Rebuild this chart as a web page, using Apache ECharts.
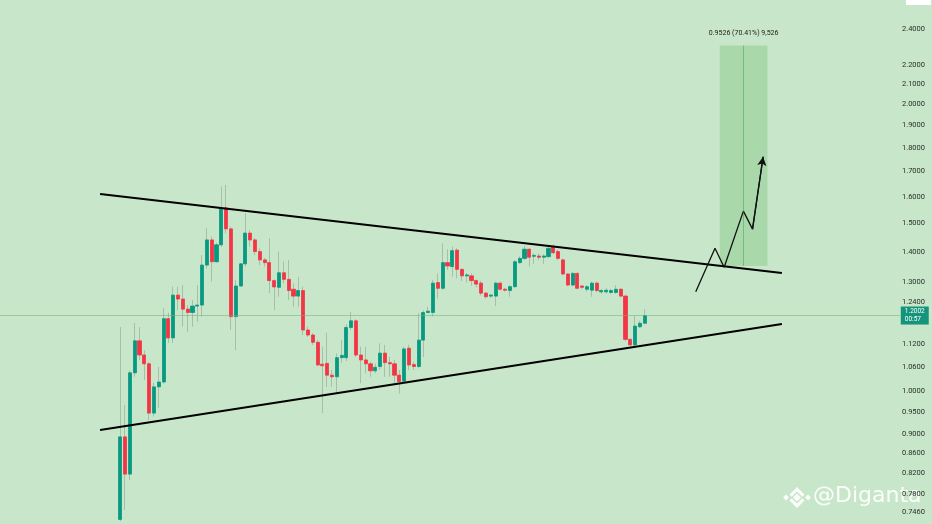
<!DOCTYPE html>
<html>
<head>
<meta charset="utf-8">
<script src="https://cdn.jsdelivr.net/npm/echarts@6/dist/echarts.min.js"></script>
<style>
html,body{margin:0;padding:0;background:#c8e6c9;}
#chart{width:932px;height:524px;}
</style>
</head>
<body>
<div id="chart"></div>
<script>
// ---- Data ----
const openP = [0.733,0.895,0.818,1.045,1.129,1.091,1.068,0.948,1.010,1.022,
1.191,1.137,1.261,1.249,1.219,1.209,1.228,1.231,1.356,1.441,
1.367,1.424,1.557,1.480,1.197,1.289,1.360,1.465,1.441,1.401,
1.373,1.364,1.306,1.285,1.331,1.310,1.279,1.258,1.275,1.159,
1.145,1.125,1.067,1.069,1.039,1.035,1.084,1.084,1.166,1.185,
1.091,1.078,1.068,1.050,1.061,1.096,1.071,1.068,1.039,1.024,
1.109,1.066,1.061,1.131,1.209,1.209,1.300,1.282,1.364,1.351,
1.406,1.342,1.321,1.321,1.306,1.298,1.267,1.258,1.258,1.298,
1.279,1.275,1.287,1.364,1.378,1.409,1.385,1.386,1.382,1.384,
1.416,1.401,1.373,1.327,1.292,1.329,1.289,1.279,1.276,1.298,
1.271,1.271,1.269,1.269,1.279,1.258,1.133,1.118,1.168,1.178];
const closeP = [0.895,0.818,1.045,1.129,1.091,1.068,0.948,1.010,1.022,1.191,
1.137,1.261,1.249,1.219,1.209,1.228,1.231,1.356,1.441,1.367,
1.424,1.557,1.480,1.197,1.289,1.360,1.465,1.441,1.401,1.373,
1.364,1.306,1.286,1.331,1.310,1.275,1.258,1.275,1.159,1.145,
1.125,1.065,1.063,1.039,1.035,1.084,1.090,1.166,1.185,1.091,
1.078,1.068,1.050,1.059,1.096,1.071,1.068,1.039,1.023,1.107,
1.065,1.061,1.131,1.209,1.213,1.298,1.282,1.364,1.353,1.404,
1.342,1.321,1.324,1.306,1.295,1.267,1.256,1.261,1.298,1.279,
1.276,1.287,1.367,1.378,1.409,1.382,1.388,1.382,1.386,1.412,
1.397,1.378,1.327,1.292,1.329,1.282,1.285,1.287,1.298,1.275,
1.275,1.276,1.275,1.279,1.258,1.133,1.118,1.170,1.178,1.2002];
const highP = [1.167,0.967,1.050,1.179,1.167,1.104,1.073,1.020,1.060,1.222,
1.208,1.287,1.287,1.292,1.231,1.246,1.292,1.389,1.482,1.452,
1.431,1.639,1.646,1.488,1.308,1.363,1.537,1.476,1.447,1.412,
1.379,1.447,1.310,1.401,1.367,1.373,1.297,1.318,1.287,1.168,
1.150,1.131,1.113,1.151,1.052,1.095,1.131,1.175,1.211,1.190,
1.113,1.113,1.073,1.069,1.122,1.118,1.086,1.078,1.052,1.113,
1.118,1.073,1.207,1.216,1.226,1.308,1.329,1.429,1.409,1.418,
1.412,1.345,1.330,1.330,1.310,1.305,1.270,1.265,1.303,1.303,
1.283,1.292,1.372,1.385,1.420,1.412,1.395,1.395,1.392,1.420,
1.426,1.408,1.378,1.330,1.333,1.333,1.292,1.292,1.303,1.303,
1.280,1.282,1.280,1.292,1.283,1.262,1.136,1.199,1.185,1.219];
const lowP = [0.730,0.750,0.806,1.035,1.078,1.027,0.932,0.940,0.960,1.018,
1.123,1.123,1.216,1.168,1.154,1.168,1.182,1.197,1.345,1.303,
1.363,1.417,1.464,1.159,1.104,1.287,1.351,1.418,1.389,1.356,
1.351,1.267,1.216,1.256,1.297,1.246,1.226,1.226,1.145,1.140,
1.118,1.061,0.948,1.010,1.010,0.994,1.070,1.075,1.159,1.086,
1.019,1.044,1.035,1.044,1.052,1.035,1.035,1.019,0.994,1.019,
1.052,1.052,1.056,1.086,1.207,1.197,1.251,1.277,1.340,1.318,
1.313,1.305,1.300,1.290,1.285,1.260,1.250,1.252,1.228,1.275,
1.272,1.256,1.283,1.360,1.372,1.351,1.360,1.372,1.360,1.380,
1.393,1.372,1.323,1.288,1.288,1.279,1.280,1.272,1.256,1.270,
1.265,1.266,1.264,1.265,1.254,1.128,1.112,1.112,1.165,1.175];

// trend lines and projection, [barIndex, price]
const upperLine = [[-4.2, 1.610], [137.5, 1.330]];
const lowerLine = [[-4.2, 0.910], [137.5, 1.176]];
const projection = [[119.6, 1.271], [123.6, 1.412], [125.5, 1.349], [129.5, 1.545], [131.4, 1.479], [133.6, 1.762]];
const targetBox = { x0: 124.6, x1: 134.5, entry: 1.353, target: 2.3056, mid: 129.5 };
const targetText = '0.9526 (70.41%) 9,526';
const lastPrice = 1.2002;
const countdown = '00:57';
const tickLabels = [2.4, 2.2, 2.1, 2.0, 1.9, 1.8, 1.7, 1.6, 1.5, 1.4, 1.3, 1.24, 1.12, 1.06, 1.0, 0.95, 0.90, 0.86, 0.82, 0.78, 0.746];

// ---- Build series data ----
const wickData = openP.map((o, i) => [i, o, closeP[i], lowP[i], highP[i]]);
const bodyData = openP.map((o, i) => [i, o, closeP[i], Math.min(o, closeP[i]), Math.max(o, closeP[i])]);

const UP = '#089981', DOWN = '#f23645', WICK = 'rgba(110,130,110,0.38)';
const WM = 'rgba(255,255,255,0.92)';

const chart = echarts.init(document.getElementById('chart'));
chart.setOption({
  animation: false,
  backgroundColor: '#c8e6c9',
  grid: { left: 0, right: 0, top: 0, bottom: 0 },
  xAxis: {
    type: 'value', min: -25, max: 168.7,
    axisLine: { show: false }, axisTick: { show: false }, axisLabel: { show: false }, splitLine: { show: false }
  },
  yAxis: {
    type: 'log', logBase: 10, min: 0.725, max: 2.574, position: 'right',
    axisLine: { show: false }, axisTick: { show: false }, splitLine: { show: false },
    axisLabel: {
      inside: true, margin: 7, fontSize: 7.5, color: '#2a2e2a', fontFamily: 'Roboto',
      customValues: tickLabels,
      formatter: v => Number(v).toFixed(4)
    }
  },
  series: [
    {
      type: 'candlestick', name: 'wicks', data: wickData, encode: { x: 0, y: [1, 2, 3, 4] },
      barWidth: 0.6, silent: true,
      itemStyle: { color: WICK, color0: WICK, borderColor: WICK, borderColor0: WICK, borderWidth: 1 }
    },
    {
      type: 'candlestick', name: 'bodies', data: bodyData, encode: { x: 0, y: [1, 2, 3, 4] },
      barWidth: 3.6,
      itemStyle: { color: UP, color0: DOWN, borderColor: UP, borderColor0: DOWN, borderWidth: 0.8 }
    },
    {
      type: 'line', name: 'upper', data: upperLine, symbol: 'none',
      lineStyle: { color: '#000', width: 2 },
      markArea: {
        silent: true,
        itemStyle: { color: 'rgba(76,175,80,0.25)' },
        label: { show: true, position: 'top', distance: 9, formatter: targetText, fontSize: 7, color: '#1b1b1b', fontFamily: 'Roboto' },
        data: [[{ coord: [targetBox.x0, targetBox.entry] }, { coord: [targetBox.x1, targetBox.target] }]]
      },
      markLine: {
        silent: true, symbol: 'none', label: { show: false },
        lineStyle: { color: 'rgba(60,150,60,0.45)', width: 1, type: 'solid' },
        data: [[{ coord: [targetBox.mid, targetBox.entry] }, { coord: [targetBox.mid, targetBox.target] }]]
      }
    },
    {
      type: 'line', name: 'lower', data: lowerLine, symbol: 'none',
      lineStyle: { color: '#000', width: 2 },
      markLine: {
        silent: true, symbol: 'none',
        lineStyle: { color: 'rgba(120,175,120,0.55)', width: 1, type: 'solid' },
        label: {
          show: true, position: 'end', distance: 1,
          formatter: lastPrice.toFixed(4) + '\n' + countdown,
          backgroundColor: '#14947a', color: '#ffffff', fontSize: 6.5, lineHeight: 8,
          padding: [1, 4], fontFamily: 'Roboto'
        },
        data: [[{ coord: [-25, lastPrice] }, { coord: [162.0, lastPrice] }]]
      }
    },
    {
      type: 'line', name: 'projection', data: projection, symbol: 'none',
      lineStyle: { color: '#111', width: 1.3 },
      markLine: {
        silent: true, symbol: ['none', 'arrow'], symbolSize: [7, 9],
        label: { show: false },
        lineStyle: { color: '#111', width: 1.3, type: 'solid' },
        data: [[{ coord: projection[projection.length - 2] }, { coord: projection[projection.length - 1] }]]
      }
    }
  ],
  graphic: [
    { type: 'rect', shape: { x: 906, y: 0, width: 25, height: 5 }, style: { fill: '#ffffff' } },
    { type: 'polygon', shape: { points: [[797, 493.5], [801, 497.5], [797, 501.5], [793, 497.5]] }, style: { fill: WM } },
    { type: 'polygon', shape: { points: [[786, 494.5], [789, 497.5], [786, 500.5], [783, 497.5]] }, style: { fill: WM } },
    { type: 'polygon', shape: { points: [[808, 494.5], [811, 497.5], [808, 500.5], [805, 497.5]] }, style: { fill: WM } },
    { type: 'polygon', shape: { points: [[797, 487], [804.5, 494.5], [802.3, 496.7], [797, 491.4], [791.7, 496.7], [789.5, 494.5]] }, style: { fill: WM } },
    { type: 'polygon', shape: { points: [[797, 508], [804.5, 500.5], [802.3, 498.3], [797, 503.6], [791.7, 498.3], [789.5, 500.5]] }, style: { fill: WM } },
    {
      type: 'text', left: 813, top: 485,
      style: { text: '@Diganta', fill: 'rgba(255,255,255,0.93)', font: '22px "DejaVu Sans"' }
    }
  ]
});
</script>
</body>
</html>
